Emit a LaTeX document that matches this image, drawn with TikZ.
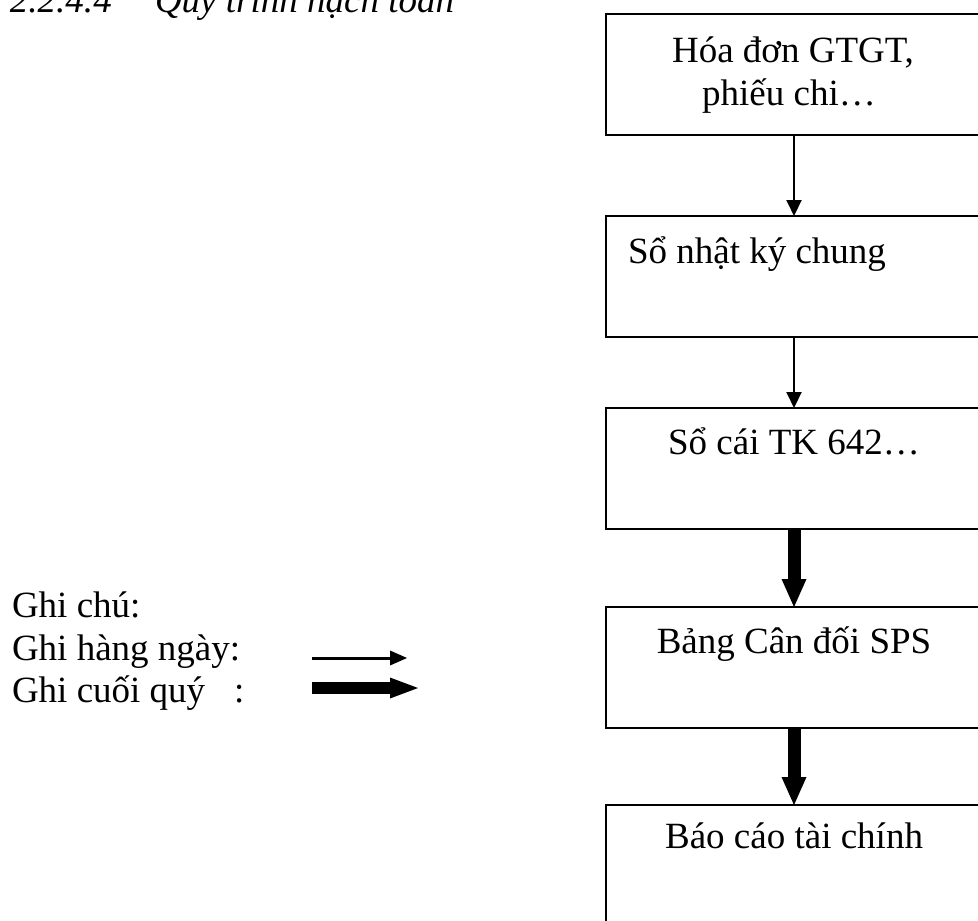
\documentclass[tikz,border=0pt]{standalone}
\usepackage{fontspec}
\setmainfont{Liberation Serif}
\usetikzlibrary{arrows.meta}
\begin{document}
\begin{tikzpicture}[x=0.5pt,y=-0.5pt,
  every node/.style={inner sep=0pt,outer sep=0pt,
    font=\fontsize{18.5pt}{21pt}\selectfont},
  box/.style={draw,line width=1pt,minimum width=188pt,minimum height=60.5pt},
  lbl/.style={anchor=base},
  daily/.style={line width=1pt,-{Triangle[width=7.5pt,length=8pt]}},
  quarter/.style={line width=6.5pt,-{Triangle[width=12.5pt,length=14pt,line width=0pt]}}]
\useasboundingbox (0,0) rectangle (978,920);

% heading
\node[lbl,anchor=base west] (num) at (10,13) {\itshape 2.2.4.4};
\node[lbl,anchor=base west] (title) at (155,13) {\itshape Quy trình hạch toán};

% flow boxes
\node[box] (b1) at (794,74.5) {};
\node[box] (b2) at (794,276.5) {};
\node[box] (b3) at (794,468.5) {};
\node[box] (b4) at (794,667.5) {};
\node[box] (b5) at (794,865.5) {};

\node[lbl] (t1a) at (793,63) {Hóa đơn GTGT,};
\node[lbl] (t1b) at (789,105) {phiếu chi…};
\node[lbl,anchor=base west] (t2) at (628,263) {Sổ nhật ký chung};
\node[lbl] (t3) at (794,454) {Sổ cái TK 642…};
\node[lbl] (t4) at (794,653) {Bảng Cân đối SPS};
\node[lbl] (t5) at (794,848) {Báo cáo tài chính};

\draw[daily] (b1.south) -- (b2.north);
\draw[daily] (b2.south) -- (b3.north);
\draw[quarter] (b3.south) -- (b4.north);
\draw[quarter] (b4.south) -- (b5.north);

% legend
\node[lbl,anchor=base west] (n0) at (12,617) {Ghi chú:};
\node[lbl,anchor=base west] (n1) at (12,660) {Ghi hàng ngày:};
\node[lbl,anchor=base west] (n2) at (12,702) {Ghi cuối quý\hspace{0.78em}:};

\coordinate (d0) at (312,658);
\coordinate (d1) at (407,658);
\coordinate (q0) at (312,688);
\coordinate (q1) at (418,688);
\draw[line width=1.5pt,-{Triangle[width=7.5pt,length=8.5pt,line width=0pt]}] (d0) -- (d1);
\draw[line width=6pt,-{Triangle[width=10.5pt,length=14pt,line width=0pt]}] (q0) -- (q1);
\end{tikzpicture}
\end{document}
